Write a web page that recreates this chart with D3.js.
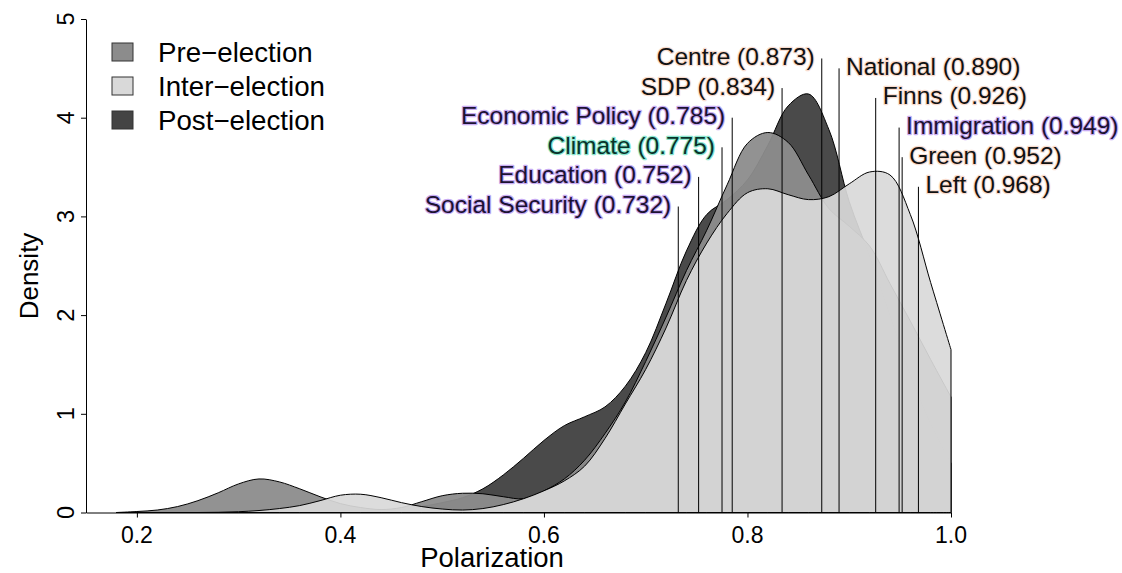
<!DOCTYPE html>
<html>
<head>
<meta charset="utf-8">
<script src="https://cdn.jsdelivr.net/npm/d3@7"></script>
<style>
  html, body { margin: 0; padding: 0; background: #ffffff; }
  svg { display: block; font-family: "Liberation Sans", Arial, Helvetica, sans-serif; }
</style>
</head>
<body>
<svg id="chart" width="1122" height="573"></svg>
<script>
// ---------------- data ----------------
const grid = [0.18,0.20,0.22,0.24,0.26,0.28,0.30,0.32,0.34,0.36,0.38,0.40,0.42,0.44,0.46,0.48,0.50,0.52,0.54,0.56,0.58,0.60,0.62,0.64,0.66,0.68,0.70,0.72,0.74,0.76,0.78,0.80,0.82,0.84,0.86,0.88,0.90,0.92,0.94,0.96,0.98,1.00];

const preElection = [0.00,0.01,0.025,0.06,0.12,0.20,0.29,0.34,0.31,0.24,0.16,0.09,0.05,0.03,0.05,0.11,0.17,0.195,0.19,0.16,0.14,0.22,0.34,0.53,0.80,1.12,1.53,1.98,2.45,2.86,3.32,3.74,3.85,3.75,3.42,3.08,2.90,2.70,2.32,1.94,1.55,1.17];

const interElection = [0,0,0,0,0,0.002,0.008,0.02,0.04,0.07,0.12,0.175,0.185,0.15,0.10,0.06,0.035,0.025,0.04,0.08,0.14,0.22,0.32,0.47,0.75,1.10,1.45,1.87,2.35,2.73,3.03,3.24,3.28,3.22,3.17,3.20,3.33,3.45,3.42,3.02,2.33,1.65];

const postElection = [0,0,0,0,0,0,0,0,0,0,0,0,0.005,0.015,0.03,0.06,0.10,0.15,0.24,0.38,0.55,0.73,0.88,0.97,1.07,1.28,1.62,2.12,2.65,3.02,3.17,3.37,3.72,4.12,4.24,3.88,3.15,2.60,2.00,1.40,0.90,0.50];

const seriesNames = ["Pre\u2212election", "Inter\u2212election", "Post\u2212election"];

const labelNames  = ["Centre", "National", "SDP", "Finns", "Economic Policy", "Immigration", "Climate", "Green", "Education", "Left", "Social Security"];
const labelValues = [0.873, 0.890, 0.834, 0.926, 0.785, 0.949, 0.775, 0.952, 0.752, 0.968, 0.732];
const labelHeights = [4.6, 4.5, 4.3, 4.2, 4.0, 3.9, 3.7, 3.6, 3.4, 3.3, 3.1];
const labelSide   = ["left", "right", "left", "right", "left", "right", "left", "right", "left", "right", "left"];
const labelKind   = ["party", "party", "party", "party", "issue", "issue", "climate", "party", "issue", "party", "issue"];

const xTicks = [0.2, 0.4, 0.6, 0.8, 1.0];
const yTicks = [0, 1, 2, 3, 4, 5];

// ---------------- styles ----------------
const fills = { pre: "#8c8c8c", inter: "#d9d9d9", post: "#444444" };
const halo = { party: "#f8dccf", issue: "#c8acf3", climate: "#8ae6cd" };
const ink  = { party: "#111111", issue: "#1b1233", climate: "#08332a" };

// ---------------- scales ----------------
const svg = d3.select("#chart");
const x = d3.scaleLinear().domain([0.15, 1.0]).range([86, 951]);
const y = d3.scaleLinear().domain([0, 5]).range([512.5, 19]);

const areaGen = d3.area()
  .x(d => x(d[0]))
  .y0(y(0))
  .y1(d => y(Math.max(0, d[1])))
  .curve(d3.curveCatmullRom.alpha(0.5));

function closedPath(vals) {
  const pts = grid.map((g, i) => [g, vals[i]]);
  return areaGen(pts);
}

const plot = svg.append("g");
// drawing order: post, pre, inter (on top)
plot.append("path").attr("d", closedPath(postElection))
  .attr("fill", fills.post).attr("fill-opacity", 0.97)
  .attr("stroke", "#000").attr("stroke-width", 1);
plot.append("path").attr("d", closedPath(preElection))
  .attr("fill", fills.pre).attr("fill-opacity", 0.95)
  .attr("stroke", "#000").attr("stroke-width", 1);
plot.append("path").attr("d", closedPath(interElection))
  .attr("fill", fills.inter).attr("fill-opacity", 0.92)
  .attr("stroke", "#000").attr("stroke-width", 1);

// vertical marker lines
plot.selectAll("line.marker").data(labelValues).join("line")
  .attr("class", "marker")
  .attr("x1", d => x(d)).attr("x2", d => x(d))
  .attr("y1", y(0)).attr("y2", (d, i) => y(labelHeights[i]))
  .attr("stroke", "#000").attr("stroke-width", 1);

// labels with halo
plot.selectAll("text.lab").data(labelNames).join("text")
  .attr("class", "lab")
  .attr("x", (d, i) => x(labelValues[i]) + (labelSide[i] === "left" ? -7 : 7))
  .attr("y", (d, i) => y(labelHeights[i]) - 2)
  .attr("dominant-baseline", "central")
  .attr("text-anchor", (d, i) => labelSide[i] === "left" ? "end" : "start")
  .attr("font-size", 24.5)
  .attr("fill", (d, i) => ink[labelKind[i]])
  .attr("stroke", (d, i) => halo[labelKind[i]])
  .attr("stroke-width", 2.4)
  .attr("stroke-linejoin", "round")
  .style("paint-order", "stroke")
  .text((d, i) => `${d} (${labelValues[i].toFixed(3)})`);

// ---------------- axes ----------------
const xAxis = d3.axisBottom(x).tickValues(xTicks).tickSize(5).tickSizeOuter(0).tickFormat("");
const gx = svg.append("g").attr("transform", `translate(0,${y(0)})`).call(xAxis);
gx.select(".domain").attr("stroke", "#000");
gx.selectAll(".tick line").attr("stroke", "#000");
svg.append("g").selectAll("text").data(xTicks).join("text")
  .attr("x", d => x(d)).attr("y", 543)
  .attr("text-anchor", "middle").attr("font-size", 23).attr("fill", "#000")
  .text(d => d3.format(".1f")(d));

const yAxis = d3.axisLeft(y).tickValues(yTicks).tickSize(5).tickSizeOuter(0).tickFormat("");
const gy = svg.append("g").attr("transform", `translate(86,0)`).call(yAxis);
gy.select(".domain").attr("stroke", "#000");
gy.selectAll(".tick line").attr("stroke", "#000");
svg.append("g").selectAll("text").data(yTicks).join("text")
  .attr("transform", d => `translate(73.5,${y(d)}) rotate(-90)`)
  .attr("text-anchor", "middle").attr("font-size", 23.5).attr("fill", "#000")
  .text(d => d);

svg.append("text").attr("x", 492).attr("y", 567).attr("text-anchor", "middle")
  .attr("font-size", 27.5).attr("fill", "#000").text("Polarization");
svg.append("text").attr("transform", "translate(38,276) rotate(-90)")
  .attr("text-anchor", "middle").attr("font-size", 26).attr("fill", "#000").text("Density");

// ---------------- legend ----------------
const legendFills = [fills.pre, fills.inter, fills.post];
const lg = svg.append("g");
seriesNames.forEach((name, i) => {
  const cy = 52 + i * 34;
  lg.append("rect").attr("x", 112).attr("y", cy - 9).attr("width", 21).attr("height", 18)
    .attr("fill", legendFills[i]).attr("stroke", "#333").attr("stroke-width", 1);
  lg.append("text").attr("x", 158).attr("y", cy).attr("dominant-baseline", "central")
    .attr("font-size", 27.7).attr("fill", "#000").text(name);
});
</script>
</body>
</html>
